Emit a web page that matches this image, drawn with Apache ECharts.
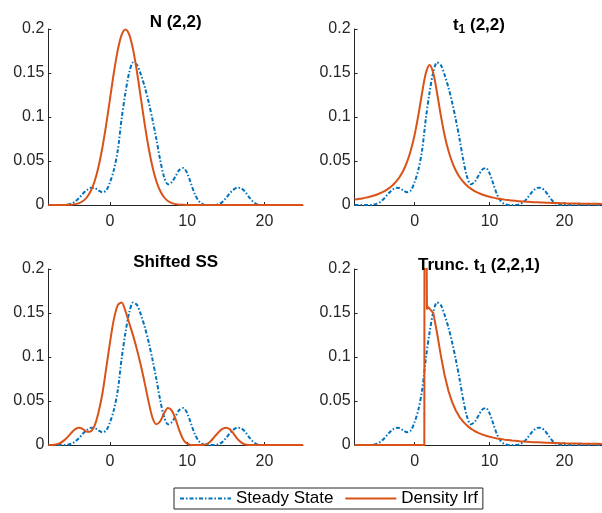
<!DOCTYPE html>
<html>
<head>
<meta charset="utf-8">
<script src="https://cdn.jsdelivr.net/npm/echarts@6/dist/echarts.min.js"></script>
<style>
html,body{margin:0;padding:0;background:#fff;}
#c{width:602px;height:513px;}
</style>
</head>
<body>
<div id="c"></div>
<script>
// ---- data ----
const xs = [-8,-7.5,-7,-6.5,-6,-5.5,-5,-4.5,-4,-3.5,-3,-2.5,-2,-1.5,-1,-0.5,0,0.5,1,1.5,2,2.5,3,3.5,4,4.5,5,5.5,6,6.5,7,7.5,8,8.5,9,9.5,10,10.5,11,11.5,12,12.5,13,13.5,14,14.5,15,15.5,16,16.5,17,17.5,18,18.5,19,19.5,20,20.5,21,21.5,22,22.5,23,23.5,24,24.5,25];

const steadyState = [0,0,0,0,0,0.0003,0.0015,0.004,0.008,0.013,0.017,0.0195,0.0193,0.0165,0.0145,0.0165,0.026,0.04,0.062,0.098,0.128,0.151,0.162,0.159,0.148,0.134,0.117,0.097,0.075,0.051,0.032,0.0235,0.026,0.033,0.04,0.042,0.036,0.024,0.012,0.0045,0.001,0,0,0,0.0008,0.003,0.0075,0.013,0.0175,0.0197,0.019,0.015,0.009,0.004,0.001,0,0,0,0,0,0,0,0,0,0,0,0];

const normal22 = [0,0,0,0,0.0001,0.0002,0.0004,0.001,0.0022,0.0045,0.0088,0.0159,0.027,0.0432,0.0648,0.0913,0.121,0.1506,0.176,0.1934,0.1995,0.1934,0.176,0.1506,0.121,0.0913,0.0648,0.0432,0.027,0.0159,0.0088,0.0045,0.0022,0.001,0.0004,0.0002,0.0001,0,0,0,0,0,0,0,0,0,0,0,0,0,0,0,0,0,0,0,0,0,0,0,0,0,0,0,0,0,0];

const t1_22 = [0.0061,0.0068,0.0075,0.0084,0.0094,0.0106,0.012,0.0138,0.0159,0.0186,0.022,0.0263,0.0318,0.0392,0.049,0.0621,0.0796,0.1019,0.1273,0.1498,0.1592,0.1498,0.1273,0.1019,0.0796,0.0621,0.049,0.0392,0.0318,0.0263,0.022,0.0186,0.0159,0.0138,0.012,0.0106,0.0094,0.0084,0.0075,0.0068,0.0061,0.0056,0.0051,0.0047,0.0043,0.004,0.0037,0.0034,0.0032,0.003,0.0028,0.0026,0.0025,0.0023,0.0022,0.0021,0.0019,0.0018,0.0017,0.0017,0.0016,0.0015,0.0014,0.0014,0.0013,0.0013,0.0012];

const shiftedSS = [0,0,0.0005,0.002,0.005,0.009,0.014,0.018,0.0195,0.018,0.015,0.0155,0.022,0.037,0.058,0.087,0.117,0.143,0.159,0.162,0.152,0.138,0.124,0.108,0.09,0.07,0.049,0.031,0.0235,0.027,0.036,0.042,0.039,0.029,0.016,0.006,0.0015,0,0,0,0,0.001,0.004,0.009,0.014,0.018,0.0197,0.018,0.013,0.007,0.003,0.0005,0,0,0,0,0,0,0,0,0,0,0,0,0,0,0];

const truncX = [-8,1.3,1.35,1.6,1.65,1.8,2,2.5,3,3.5,4,4.5,5,5.5,6,6.5,7,7.5,8,8.5,9,9.5,10,10.5,11,11.5,12,12.5,13,13.5,14,14.5,15,15.5,16,16.5,17,17.5,18,18.5,19,19.5,20,20.5,21,21.5,22,22.5,23,23.5,24,24.5,25];
const truncT1 = [0,0,0.6,0.6,0.154,0.157,0.1592,0.1498,0.1273,0.1019,0.0796,0.0621,0.049,0.0392,0.0318,0.0263,0.022,0.0186,0.0159,0.0138,0.012,0.0106,0.0094,0.0084,0.0075,0.0068,0.0061,0.0056,0.0051,0.0047,0.0043,0.004,0.0037,0.0034,0.0032,0.003,0.0028,0.0026,0.0025,0.0023,0.0022,0.0021,0.0019,0.0018,0.0017,0.0017,0.0016,0.0015,0.0014,0.0014,0.0013,0.0013,0.0012];

const xTicks = [0, 10, 20];
const yTicks = [0, 0.05, 0.1, 0.15, 0.2];
const seriesNames = ['Steady State', 'Density Irf'];
const panelTitles = ['N (2,2)', '{m|t}{s|1}{m| (2,2)}', 'Shifted SS', '{m|Trunc. t}{s|1}{m| (2,2,1)}'];

// ---- layout / style ----
const FONT = "'Liberation Sans', Arial, Helvetica, sans-serif";
const BLUE = '#0072BD', ORANGE = '#D95319', AXIS = '#262626';
const grids = [
  {left: 48.3, top: 29, width: 254.7, height: 176},
  {left: 354.6, top: 29, width: 254.7, height: 176},
  {left: 48.3, top: 269, width: 254.7, height: 176},
  {left: 354.6, top: 269, width: 254.7, height: 176}
];

const orangeData = [
  xs.map((x, i) => [x, normal22[i]]),
  xs.map((x, i) => [x, t1_22[i]]),
  xs.map((x, i) => [x, shiftedSS[i]]),
  truncX.map((x, i) => [x, truncT1[i]])
];
const blueData = xs.map((x, i) => [x, steadyState[i]]);

const xAxes = grids.map((g, i) => ({
  type: 'value', gridIndex: i, min: -8, max: 25,
  axisLine: {show: true, onZero: false, lineStyle: {color: AXIS, width: 1}},
  axisTick: {show: true, inside: true, length: 3, customValues: xTicks, lineStyle: {color: AXIS}},
  axisLabel: {customValues: xTicks, color: AXIS, fontSize: 16, fontFamily: FONT, margin: 9},
  splitLine: {show: false}
}));
const yAxes = grids.map((g, i) => ({
  type: 'value', gridIndex: i, min: 0, max: 0.2, interval: 0.05,
  axisLine: {show: true, onZero: false, lineStyle: {color: AXIS, width: 1}},
  axisTick: {show: true, inside: true, length: 3, lineStyle: {color: AXIS}},
  axisLabel: {color: AXIS, fontSize: 16, fontFamily: FONT, margin: 4},
  splitLine: {show: false}
}));

const series = [];
grids.forEach((g, i) => {
  series.push({
    name: seriesNames[0], type: 'line', xAxisIndex: i, yAxisIndex: i,
    data: blueData, showSymbol: false, symbol: 'none', smooth: 0.3,
    lineStyle: {color: BLUE, width: 2, type: [4, 2, 1.5, 2]}, itemStyle: {color: BLUE},
    clip: true, z: 2
  });
  series.push({
    name: seriesNames[1], type: 'line', xAxisIndex: i, yAxisIndex: i,
    data: orangeData[i], showSymbol: false, symbol: 'none', smooth: i === 3 ? false : 0.3,
    lineStyle: {color: ORANGE, width: 2, type: 'solid'}, itemStyle: {color: ORANGE},
    clip: true, z: 3
  });
});

const titles = grids.map((g, i) => ({
  text: panelTitles[i], left: g.left + g.width / 2 - (i % 2 === 1 ? 8 : 5), top: i < 2 ? 9 : 249,
  textAlign: 'center',
  textStyle: {
    fontSize: 17, fontWeight: 'bold', color: '#000', fontFamily: FONT,
    rich: {
      m: {fontSize: 17, fontWeight: 'bold', color: '#000', fontFamily: FONT},
      s: {fontSize: 12, fontWeight: 'bold', color: '#000', fontFamily: FONT, padding: [10, 0, 0, 0]}
    }
  }
}));

const chart = echarts.init(document.getElementById('c'), null, {renderer: 'canvas'});
chart.setOption({
  animation: false,
  backgroundColor: '#fff',
  title: titles,
  grid: grids,
  xAxis: xAxes,
  yAxis: yAxes,
  legend: {
    data: seriesNames, left: 174, top: 488, orient: 'horizontal',
    itemWidth: 51, itemHeight: 14, itemGap: 11,
    padding: [2, 5, 2, 5], borderColor: '#262626', borderWidth: 1, borderRadius: 0,
    backgroundColor: '#fff', selectedMode: false,
    itemStyle: {opacity: 0},
    textStyle: {fontSize: 17, color: '#000', fontFamily: FONT}
  },
  series: series
});
</script>
</body>
</html>
